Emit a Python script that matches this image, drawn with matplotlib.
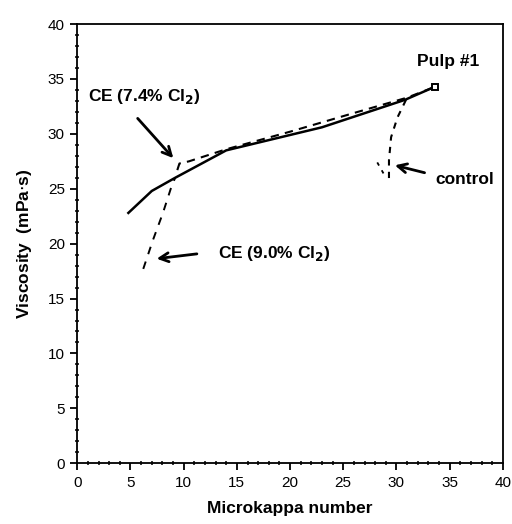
import matplotlib.pyplot as plt
from matplotlib.ticker import MultipleLocator

plt.rcParams['font.family'] = ['Liberation Sans', 'DejaVu Sans']

# solid: main series
kappa_main = [4.8, 7.0, 9.2, 14.0, 23.0, 30.8, 33.4]
visc_main = [22.8, 24.8, 26.0, 28.5, 30.6, 33.1, 34.2]

# CE (7.4% Cl2), dashed
kappa_74 = [9.4, 9.6, 10.5, 14.0, 20.0, 26.0, 31.0, 33.4]
visc_74 = [26.7, 27.3, 27.5, 28.6, 30.2, 31.9, 33.3, 34.2]

# CE (9.0% Cl2), dashed
kappa_90 = [6.2, 7.1, 8.05, 8.85, 9.2]
visc_90 = [17.7, 20.3, 22.8, 25.2, 26.0]

# control, dashed
kappa_ctrl = [30.9, 30.1, 29.5, 29.3, 29.3]
visc_ctrl = [33.1, 31.5, 29.7, 27.6, 25.8]
kappa_ctrl2 = [28.2, 28.9]
visc_ctrl2 = [27.4, 26.2]

pulp_kappa = 33.6
pulp_visc = 34.3

fig = plt.figure(figsize=(5.12, 5.24), dpi=100)
ax = fig.add_axes([0.151, 0.116, 0.831, 0.838])

ax.plot(kappa_main, visc_main, color='black', lw=1.8)
ax.plot(kappa_74, visc_74, color='black', lw=1.5, ls=(0, (4, 3)))
ax.plot(kappa_90, visc_90, color='black', lw=1.4, ls=(0, (4, 4)))
ax.plot(kappa_ctrl, visc_ctrl, color='black', lw=1.5, ls=(0, (3, 3)))
ax.plot(kappa_ctrl2, visc_ctrl2, color='black', lw=1.3, ls=(0, (2, 3)))
ax.plot([pulp_kappa], [pulp_visc], marker='s', ms=5, mfc='white',
        mec='black', mew=1.4)

ax.set_xlim(0, 40)
ax.set_ylim(0, 40)
ax.xaxis.set_major_locator(MultipleLocator(5))
ax.xaxis.set_minor_locator(MultipleLocator(1))
ax.yaxis.set_major_locator(MultipleLocator(5))
ax.yaxis.set_minor_locator(MultipleLocator(1))
ax.tick_params(which='major', direction='out', length=5, width=1.3,
               labelsize=11, pad=4)
ax.tick_params(which='minor', direction='inout', length=3, width=1.1)
for s in ax.spines.values():
    s.set_linewidth(1.3)

ax.set_xlabel('Microkappa number', fontsize=12.5, fontweight='bold',
              labelpad=8)
ax.set_ylabel('Viscosity  (mPa$\\cdot$s)', fontsize=12.5, fontweight='bold',
              labelpad=10)

lbl = dict(fontsize=12.5, fontweight='bold')
arrow = dict(arrowstyle='->', color='black', lw=2.0, mutation_scale=16)

ax.text(6.3, 33.4, 'CE (7.4% Cl$_\\mathbf{2}$)', ha='center', va='center', **lbl)
ax.annotate('', xy=(9.2, 27.6), xytext=(5.5, 31.6), arrowprops=arrow)

ax.text(13.2, 19.1, 'CE (9.0% Cl$_\\mathbf{2}$)', ha='left', va='center', **lbl)
ax.annotate('', xy=(7.2, 18.6), xytext=(11.5, 19.1), arrowprops=arrow)

ax.text(33.7, 25.8, 'control', ha='left', va='center', **lbl)
ax.annotate('', xy=(29.6, 27.2), xytext=(32.9, 26.4), arrowprops=arrow)

ax.text(31.9, 36.6, 'Pulp #1', ha='left', va='center', **lbl)

fig.savefig('out.png', dpi=100)
